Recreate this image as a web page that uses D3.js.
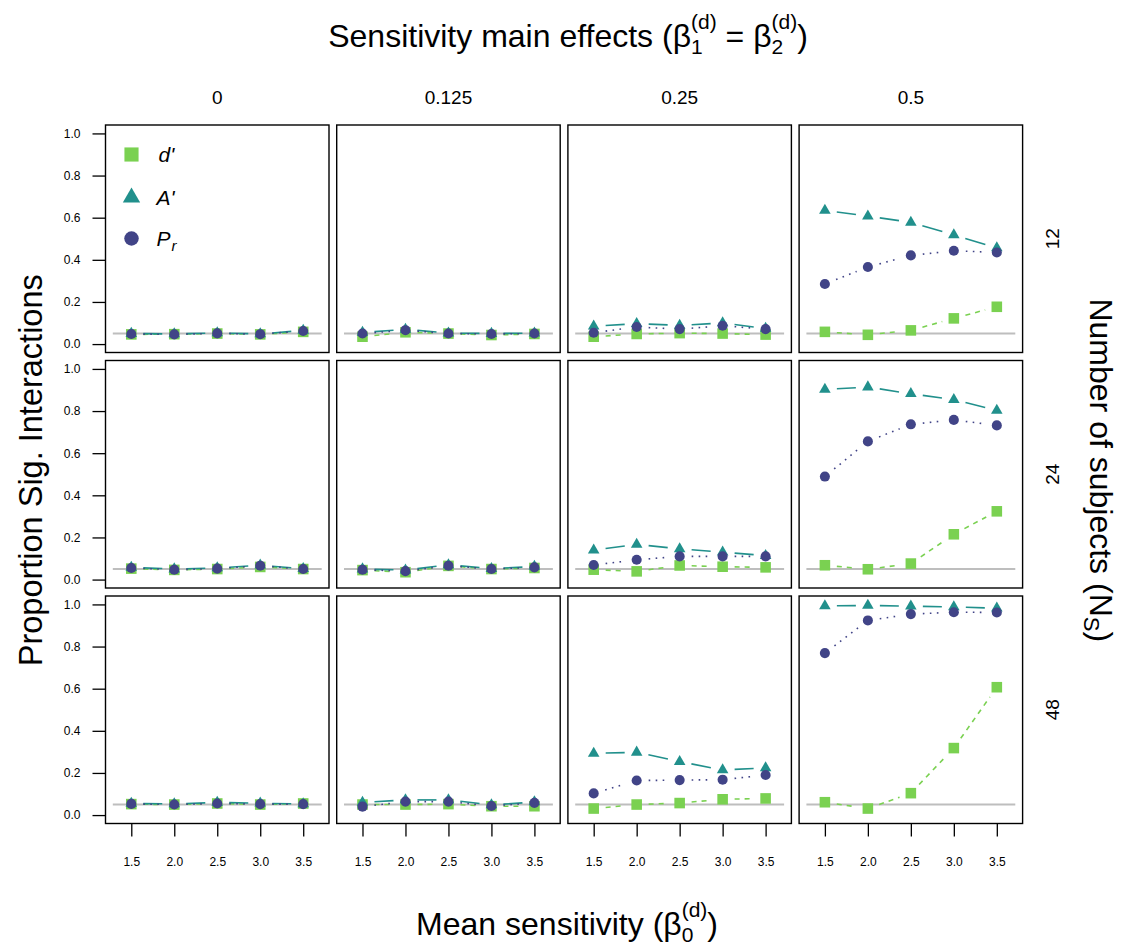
<!DOCTYPE html>
<html><head><meta charset="utf-8">
<script src="https://cdn.jsdelivr.net/npm/d3@7"></script>
<style>
body{margin:0;background:#fff}
text{font-family:"Liberation Sans",Arial,Helvetica,sans-serif;white-space:pre;fill:#000}
</style>
</head><body><svg id="chart" width="1121" height="945"></svg>
<script>
// ---------------- data ----------------
const colLabels = ["0", "0.125", "0.25", "0.5"];          // sensitivity main effects
const rowLabels = ["12", "24", "48"];                     // number of subjects
const xLabels = ["1.5", "2.0", "2.5", "3.0", "3.5"];      // mean sensitivity
const yTicks = [0, 0.2, 0.4, 0.6, 0.8, 1.0];
const refLevel = 0.05;
const seriesNames = ["d'", "A'", "Pr"];

// values indexed [row][col][x]
const dPrime = [
  [[0.046,0.047,0.050,0.046,0.058],[0.035,0.056,0.050,0.043,0.048],[0.035,0.048,0.052,0.050,0.045],[0.058,0.044,0.065,0.122,0.177]],
  [[0.052,0.046,0.050,0.060,0.050],[0.045,0.035,0.065,0.050,0.055],[0.047,0.039,0.067,0.061,0.058],[0.068,0.049,0.076,0.215,0.324]],
  [[0.052,0.050,0.055,0.050,0.055],[0.050,0.050,0.052,0.042,0.042],[0.031,0.050,0.057,0.075,0.079],[0.061,0.031,0.104,0.318,0.607]]
];
const aPrime = [
  [[0.050,0.048,0.053,0.048,0.065],[0.055,0.070,0.052,0.050,0.052],[0.085,0.097,0.089,0.100,0.074],[0.635,0.607,0.578,0.518,0.456]],
  [[0.058,0.050,0.055,0.068,0.052],[0.050,0.045,0.070,0.052,0.062],[0.140,0.167,0.146,0.130,0.114],[0.903,0.914,0.882,0.854,0.803]],
  [[0.055,0.053,0.060,0.056,0.053],[0.060,0.072,0.072,0.048,0.062],[0.293,0.298,0.254,0.214,0.224],[0.993,0.995,0.992,0.988,0.982]]
];
const pR = [
  [[0.048,0.046,0.051,0.047,0.062],[0.050,0.066,0.050,0.048,0.050],[0.054,0.081,0.071,0.087,0.071],[0.285,0.366,0.421,0.443,0.435]],
  [[0.055,0.047,0.052,0.066,0.050],[0.047,0.040,0.066,0.050,0.058],[0.069,0.094,0.110,0.110,0.110],[0.489,0.656,0.737,0.758,0.732]],
  [[0.053,0.050,0.055,0.052,0.052],[0.040,0.064,0.064,0.043,0.058],[0.103,0.164,0.166,0.168,0.190],[0.769,0.924,0.954,0.963,0.962]]
];

// ---------------- styles ----------------
const series = [
  {name: "d'", data: dPrime, color: "#7AD151", symbol: d3.symbolSquare, size: 112, lsize: 200, dash: "5,5"},
  {name: "A'", data: aPrime, color: "#21908C", symbol: d3.symbolTriangle, size: 58, lsize: 130, dash: "30,8"},
  {name: "Pr", data: pR, color: "#414487", symbol: d3.symbolCircle, size: 80, lsize: 165, dash: "1.6,5.4"}
];

const svg = d3.select("#chart");
const padL = 105.5, padT = 125, panelW = 223.5, panelH = 227.5, gapX = 7.7, gapY = 8;

const x = d3.scalePoint().domain(xLabels).range([0, panelW]).padding(0.6);
const y = d3.scaleLinear().domain([-0.04, 1.04]).range([panelH, 0]);
const gap = 12;

function richText(g, parts) {
  let cx = 0;
  parts.forEach(p => {
    const items = p.stack ? p.stack : [p];
    let w = 0;
    items.forEach(s => {
      const t = g.append("text").attr("x", cx).attr("y", s.dy || 0)
        .style("font-size", s.size + "px").text(s.t);
      if (s.italic) t.style("font-style", "italic");
      w = Math.max(w, t.node().getComputedTextLength());
    });
    cx += w;
  });
  const total = cx;
  g.selectAll("text").attr("x", function() { return +this.getAttribute("x") - total / 2; });
  return total;
}

for (let r = 0; r < rowLabels.length; r++) {
  for (let c = 0; c < colLabels.length; c++) {
    const px = padL + c * (panelW + gapX), py = padT + r * (panelH + gapY);
    const g = svg.append("g").attr("transform", `translate(${px},${py})`);

    const st = x.step();
    g.append("line")
      .attr("x1", x(xLabels[0]) - 0.43 * st).attr("x2", x(xLabels[xLabels.length - 1]) + 0.43 * st)
      .attr("y1", y(refLevel)).attr("y2", y(refLevel))
      .attr("stroke", "#BEBEBE").attr("stroke-width", 2);

    series.forEach(s => {
      const vals = s.data[r][c];
      const pts = vals.map((v, i) => [x(xLabels[i]), y(v)]);
      for (let i = 0; i < pts.length - 1; i++) {
        const [x1, y1] = pts[i], [x2, y2] = pts[i + 1];
        const dx = x2 - x1, dy = y2 - y1, len = Math.hypot(dx, dy);
        if (len <= 2 * gap) continue;
        const ux = dx / len, uy = dy / len;
        g.append("line")
          .attr("x1", x1 + ux * gap).attr("y1", y1 + uy * gap)
          .attr("x2", x2 - ux * gap).attr("y2", y2 - uy * gap)
          .attr("stroke", s.color).attr("stroke-width", 1.6)
          .attr("stroke-dasharray", s.dash);
      }
      g.selectAll(null).data(pts).enter().append("path")
        .attr("transform", d => `translate(${d[0]},${d[1]})`)
        .attr("d", d3.symbol().type(s.symbol).size(s.size))
        .attr("fill", s.color);
    });

    g.append("rect").attr("width", panelW).attr("height", panelH)
      .attr("fill", "none").attr("stroke", "#000").attr("stroke-width", 1.4);

    if (c === 0) {
      const ax = g.append("g").call(d3.axisLeft(y).tickValues(yTicks).tickSize(13).tickPadding(12).tickFormat(d3.format(".1f")));
      ax.select(".domain").remove();
      ax.selectAll(".tick line").attr("stroke", "#000").attr("stroke-width", 1.3);
      ax.selectAll("text").style("font-size", "12px").attr("font-family", null);
    }
    if (r === rowLabels.length - 1) {
      const ax = g.append("g").attr("transform", `translate(0,${panelH})`)
        .call(d3.axisBottom(x).tickSize(13).tickPadding(21));
      ax.select(".domain").remove();
      ax.selectAll(".tick line").attr("stroke", "#000").attr("stroke-width", 1.3);
      ax.selectAll("text").style("font-size", "12px").attr("font-family", null);
    }
    if (r === 0) {
      g.append("text").attr("x", panelW / 2).attr("y", -21).attr("text-anchor", "middle")
        .style("font-size", "19px").text(colLabels[c]);
    }
    if (c === colLabels.length - 1) {
      g.append("text").attr("transform", `translate(${panelW + 36},${panelH / 2}) rotate(-90)`)
        .attr("text-anchor", "middle").style("font-size", "19px").text(rowLabels[r]);
    }
    if (r === 0 && c === 0) {
      const leg = g.append("g");
      const ly = [29.5, 72.5, 113.5];
      const lx = 26;
      series.forEach((s, i) => {
        leg.append("path").attr("transform", `translate(${lx},${ly[i]})`)
          .attr("d", d3.symbol().type(s.symbol).size(s.lsize)).attr("fill", s.color);
      });
      leg.append("text").attr("x", lx + 27).attr("y", ly[0] + 7).style("font-size", "21px")
        .style("font-style", "italic").text("d'");
      leg.append("text").attr("x", lx + 25).attr("y", ly[1] + 7).style("font-size", "21px")
        .style("font-style", "italic").text("A'");
      const pt = leg.append("text").attr("x", lx + 25).attr("y", ly[2] + 7).style("font-size", "21px")
        .style("font-style", "italic");
      pt.append("tspan").text("P");
      pt.append("tspan").attr("dy", 5).attr("dx", 1).style("font-size", "15px").text("r");
    }
  }
}

const panelsRight = padL + 4 * panelW + 3 * gapX;
const panelsBottom = padT + 3 * panelH + 2 * gapY;
const cxMid = (padL + panelsRight) / 2;
const cyMid = (padT + panelsBottom) / 2;

richText(svg.append("g").attr("transform", `translate(${cxMid + 4},47)`), [
  {t: "Sensitivity main effects (β", size: 32},
  {stack: [{t: "1", size: 21, dy: 7}, {t: "(d)", size: 21, dy: -18}]},
  {t: " = β", size: 32},
  {stack: [{t: "2", size: 21, dy: 7}, {t: "(d)", size: 21, dy: -18}]},
  {t: ")", size: 32}
]);

richText(svg.append("g").attr("transform", `translate(${cxMid + 3},935)`), [
  {t: "Mean sensitivity (β", size: 32},
  {stack: [{t: "0", size: 21, dy: 7}, {t: "(d)", size: 21, dy: -18}]},
  {t: ")", size: 32}
]);

svg.append("text").attr("transform", `translate(42,${cyMid - 4}) rotate(-90)`)
  .attr("text-anchor", "middle").style("font-size", "32.5px").text("Proportion Sig. Interactions");

richText(svg.append("g").attr("transform", `translate(1090,${cyMid - 4}) rotate(90)`), [
  {t: "Number of subjects (N", size: 32},
  {t: "S", size: 22, dy: 6},
  {t: ")", size: 32}
]);
</script>
</body></html>
